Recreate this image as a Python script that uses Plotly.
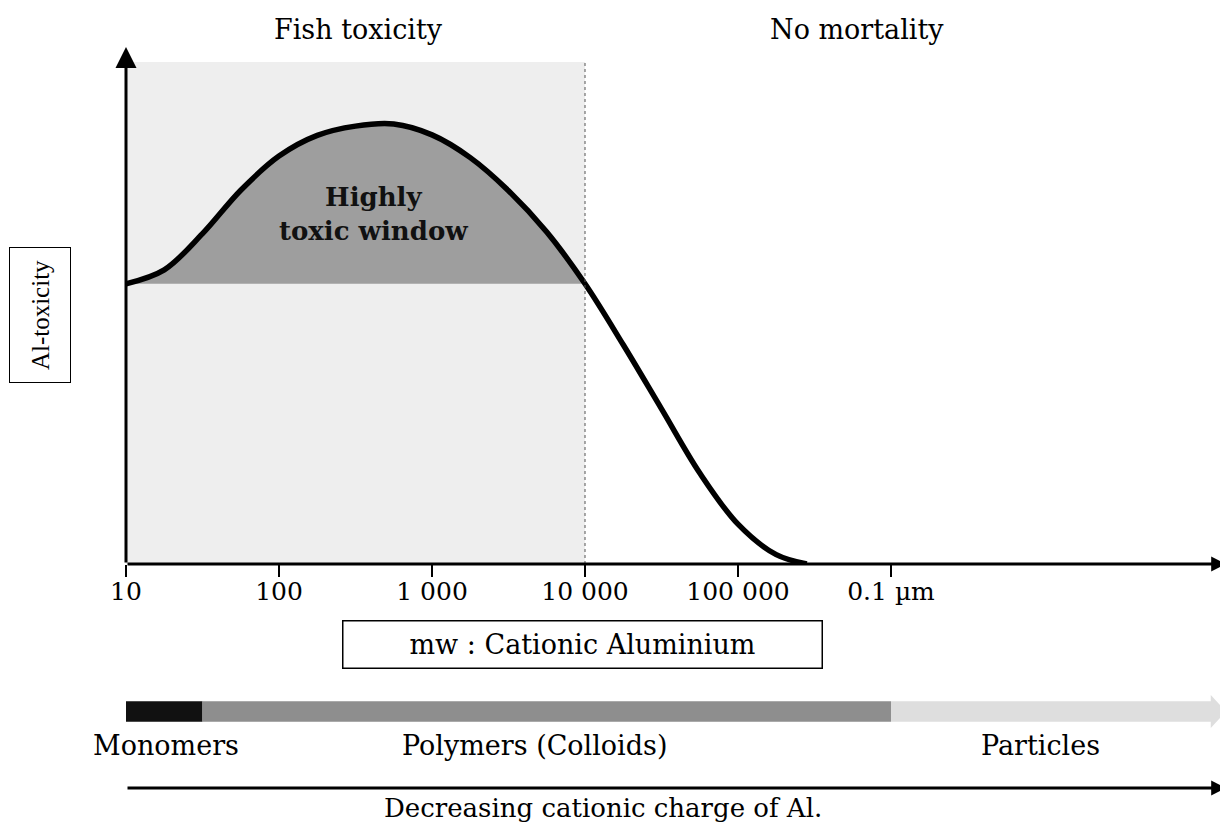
import plotly.graph_objects as go

# toxicity curve: x is log10(mw), y is relative Al-toxicity
log_mw = [1.00, 1.25, 1.50, 1.75, 2.00, 2.25, 2.50, 2.75, 3.00, 3.25, 3.50, 3.75,
          4.00, 4.25, 4.50, 4.75, 5.00, 5.25, 5.45]
toxicity = [0.542, 0.569, 0.639, 0.723, 0.789, 0.829, 0.847, 0.851, 0.830, 0.786,
            0.722, 0.642, 0.542, 0.424, 0.300, 0.176, 0.077, 0.018, 0.0]
window_end = 4.0       # curve drops back to the window baseline at 10 000

tick_pos = [1, 2, 3, 4, 5, 6]
tick_labels = ['10', '100', '1 000', '10 000', '100 000', '0.1 \u00b5m']

zone_names = ['Fish toxicity', 'No mortality']
zone_label_pos = [2.52, 5.78]
zone_split = 4          # 10 000

size_classes = ['Monomers', 'Polymers (Colloids)', 'Particles']
class_start = [1.0, 1.5, 6.0]
class_end = [1.5, 6.0, 8.1]
class_colours = ['#111111', '#8e8e8e', '#dedede']
class_label_pos = [1.26, 3.67, 6.98]

# the page puts the figure 8px in from the top-left corner
OFF = 8
W, H = 1228 - OFF, 826 - OFF
L = 126
XMAX = 1 + (1228 - L) / 153.0
SERIF = 'DejaVu Serif'


def px(x):
    return (x - L) / (1228 - L)


def py(y):
    return (826 - y) / H


fig = go.Figure()

# highly toxic window (area between curve and baseline)
win_x = [x for x in log_mw if x <= window_end]
win_y = toxicity[:len(win_x)]
fig.add_trace(go.Scatter(x=win_x, y=win_y, mode='lines', fill='toself',
                         fillcolor='#9e9e9e', line=dict(width=0, shape='spline'),
                         hoverinfo='skip'))

fig.add_trace(go.Scatter(x=log_mw, y=toxicity, mode='lines',
                         line=dict(color='black', width=5.5, shape='spline'),
                         hoverinfo='skip'))

# size class bar underneath
fig.add_trace(go.Bar(y=[0] * len(size_classes),
                     x=[e - s for s, e in zip(class_start, class_end)],
                     base=class_start, orientation='h', width=1,
                     marker=dict(color=class_colours, line=dict(width=0)),
                     xaxis='x', yaxis='y2', hoverinfo='skip'))
tip = XMAX - 0.012
fig.add_trace(go.Scatter(x=[class_end[-1] - 0.01, tip, class_end[-1] - 0.01],
                         y=[0.8, 0, -0.8], fill='toself', mode='lines',
                         fillcolor=class_colours[-1], line=dict(width=0),
                         xaxis='x', yaxis='y2', hoverinfo='skip'))

# stippled fish-toxicity zone and its dotted border
fig.add_shape(type='rect', x0=1, x1=zone_split, y0=0, y1=0.971, xref='x', yref='y',
              fillcolor='#eeeeee', line=dict(width=0), layer='below')
fig.add_shape(type='line', x0=zone_split, x1=zone_split, y0=0, y1=0.971,
              xref='x', yref='y', line=dict(color='#555555', width=1, dash='dot'))

annos = []
# axes with arrowheads
annos.append(dict(x=1, y=1, ax=1, ay=0, xref='x', yref='y', axref='x', ayref='y',
                  showarrow=True, arrowhead=2, arrowwidth=3, arrowsize=1.4,
                  arrowcolor='black', text=''))
annos.append(dict(x=tip, y=0, ax=1, ay=0, xref='x', yref='y', axref='x', ayref='y',
                  showarrow=True, arrowhead=2, arrowwidth=3, arrowsize=1.0,
                  arrowcolor='black', text=''))
annos.append(dict(x=tip, y=py(788), ax=1, ay=0, xref='x', yref='paper',
                  axref='x', ayref='pixel', showarrow=True, arrowhead=2, arrowwidth=3,
                  arrowsize=1.0, arrowcolor='black', text=''))

label_font = dict(family=SERIF, size=27, color='black')

for name, pos in zip(zone_names, zone_label_pos):
    annos.append(dict(x=pos, y=py(30), xref='x', yref='paper', text=name,
                      showarrow=False, font=label_font))

annos.append(dict(x=2.62, y=0.677, xref='x', yref='y', text='<b>Highly<br>toxic window</b>',
                  showarrow=False, font=dict(family=SERIF, size=26, color='#111111'),
                  align='center'))

annos.append(dict(x=px(40), y=py(315), xref='paper', yref='paper', text='Al-toxicity',
                  textangle=-90, showarrow=False, width=134, height=60,
                  bordercolor='black', borderwidth=1, borderpad=0,
                  font=dict(family='Liberation Serif', size=25, color='black')))

annos.append(dict(x=px(582), y=py(644), xref='paper', yref='paper',
                  text='mw : Cationic Aluminium', showarrow=False, width=478, height=46,
                  bordercolor='black', borderwidth=1.5, borderpad=0, font=label_font))

for name, pos in zip(size_classes, class_label_pos):
    annos.append(dict(x=pos, y=py(745), xref='x', yref='paper', text=name,
                      showarrow=False, font=label_font))

annos.append(dict(x=px(603), y=py(808), xref='paper', yref='paper',
                  text='Decreasing cationic charge of Al.', showarrow=False,
                  font=dict(family=SERIF, size=26, color='black')))

for a in annos:
    a['xanchor'] = 'center'
    a['yanchor'] = 'middle'

fig.update_layout(
    width=W, height=H,
    margin=dict(l=L - OFF, r=0, t=0, b=0),
    paper_bgcolor='white', plot_bgcolor='white',
    showlegend=False,
    barmode='overlay',
    annotations=annos,
    xaxis=dict(range=[1, XMAX], anchor='y', tickmode='array', tickvals=tick_pos,
               ticktext=tick_labels, ticks='outside', ticklen=12, tickwidth=1.5,
               tickcolor='black', showgrid=False, zeroline=False, showline=False,
               ticklabelstandoff=-7,
               tickfont=dict(family=SERIF, size=25, color='black')),
    yaxis=dict(range=[0, 1], domain=[py(564), py(47)], visible=False),
    yaxis2=dict(range=[-0.8, 0.8], domain=[py(728), py(695)], anchor='x', visible=False),
)

fig.write_html('out.html')
